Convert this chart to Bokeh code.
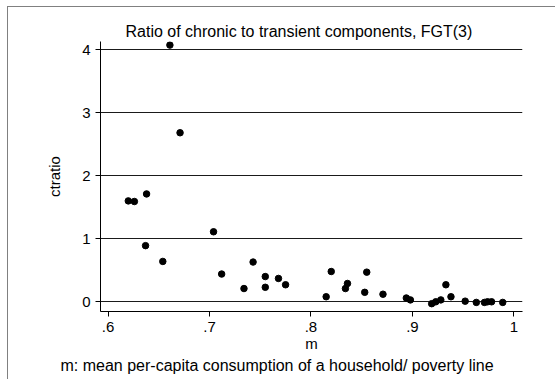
from bokeh.plotting import figure
from bokeh.models import Range1d, FixedTicker, ColumnDataSource, Title
from bokeh.embed import file_html
from bokeh.resources import INLINE

# mean per-capita consumption / poverty line
m = [0.620, 0.626, 0.637, 0.638, 0.654, 0.661, 0.671, 0.704, 0.712, 0.734,
     0.743, 0.755, 0.755, 0.768, 0.775, 0.815, 0.820, 0.834, 0.836, 0.853,
     0.855, 0.871, 0.894, 0.898, 0.919, 0.923, 0.928, 0.933, 0.938, 0.952,
     0.963, 0.971, 0.974, 0.978, 0.989]
# ratio of chronic to transient components
ctratio = [1.60, 1.59, 0.89, 1.71, 0.64, 4.07, 2.68, 1.11, 0.44, 0.21,
           0.63, 0.40, 0.23, 0.37, 0.27, 0.08, 0.48, 0.21, 0.29, 0.15,
           0.47, 0.12, 0.06, 0.03, -0.03, 0.00, 0.03, 0.27, 0.08, 0.01,
           -0.01, -0.01, 0.00, 0.00, -0.01]

x_ticks = [0.6, 0.7, 0.8, 0.9, 1.0]
x_tick_labels = [".6", ".7", ".8", ".9", "1"]
y_ticks = [0, 1, 2, 3, 4]

title_text = "Ratio of chronic to transient components, FGT(3)"
note_text = "m: mean per-capita consumption of a household/ poverty line"

FONT = "Liberation Sans"

p = figure(width=548, height=373, output_backend="svg", toolbar_location=None,
           x_range=Range1d(0.5926, 1.0085), y_range=Range1d(-0.154, 4.127),
           min_border_left=92, min_border_right=34, min_border_top=34,
           min_border_bottom=69)
p.margin = (6, 0, 0, 7)
p.styles = {"border-top": "1px solid #808080", "border-left": "1px solid #808080"}

p.background_fill_color = "white"
p.border_fill_color = "white"
p.outline_line_color = None

p.title.text = title_text
p.title.align = "left"
p.title.offset = 25
p.title.vertical_align = "top"
p.title.text_font = FONT
p.title.text_font_size = "16px"
p.title.text_font_style = "normal"
p.title.text_color = "black"
p.title.standoff = 0

src = ColumnDataSource(dict(m=m, ctratio=ctratio))
p.scatter("m", "ctratio", source=src, size=6.5, color="black")

# axes
p.xaxis.ticker = FixedTicker(ticks=x_ticks)
p.xaxis.major_label_overrides = dict(zip(x_ticks, x_tick_labels))
p.yaxis.ticker = FixedTicker(ticks=y_ticks)
p.xaxis.axis_label = "m"
p.yaxis.axis_label = "ctratio"
for ax in (p.xaxis, p.yaxis):
    ax.major_tick_out = 5
    ax.major_tick_in = 0
    ax.minor_tick_line_color = None
    ax.axis_line_color = "black"
    ax.major_tick_line_color = "black"
    ax.major_label_text_font = FONT
    ax.major_label_text_font_size = "15px"
    ax.major_label_text_color = "black"
    ax.axis_label_text_font = FONT
    ax.axis_label_text_font_size = "15px"
    ax.axis_label_text_font_style = "normal"
    ax.axis_label_text_color = "black"
p.xaxis.major_label_standoff = 5
p.xaxis.axis_label_standoff = 0
p.xaxis.axis_label_text_line_height = 1.0
p.yaxis.major_label_standoff = 5
p.yaxis.axis_label_standoff = 16

p.xgrid.visible = False
p.ygrid.ticker = FixedTicker(ticks=y_ticks)
p.ygrid.grid_line_color = "#1a1a1a"
p.ygrid.grid_line_width = 1

# note under the x-axis title
note = Title(text=note_text, align="left", offset=-40, text_font=FONT,
             text_font_size="16px", text_font_style="normal", text_color="black",
             standoff=0)
p.add_layout(note, "below")

open("out.html", "w").write(file_html(p, INLINE))
